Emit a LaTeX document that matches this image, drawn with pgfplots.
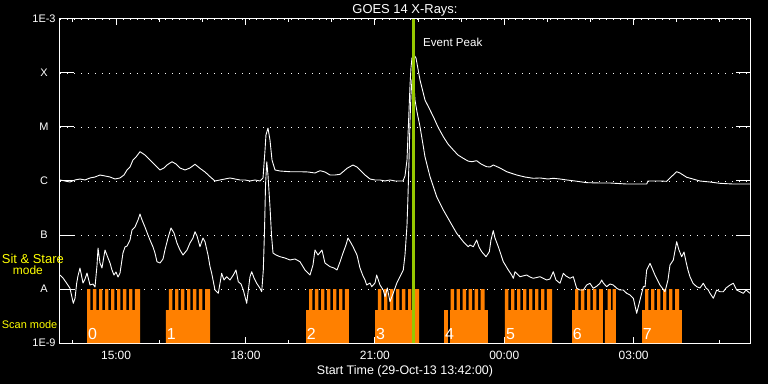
\documentclass[border=0pt]{standalone}
\usepackage{pgfplots}
\pgfplotsset{compat=1.18}
\usepackage{fontspec}
\setmainfont{Liberation Sans}
\definecolor{orng}{RGB}{255,128,0}
\definecolor{grn}{RGB}{150,200,0}
\definecolor{ylw}{RGB}{255,255,0}
\begin{document}
\begin{tikzpicture}
\path[use as bounding box, fill=black] (-60bp,-41bp) rectangle (708bp,343bp);
\begin{axis}[
  scale only axis, width=690bp, height=324bp,
  xmin=0, xmax=959.8, ymin=-9, ymax=-3,
  clip=false,
  axis line style={white, line width=1bp},
  xtick={78,258,438,618,798},
  xticklabels={15:00,18:00,21:00,00:00,03:00},
  minor xtick={18,138,198,318,378,498,558,678,738,858,918},
  ytick={-9,-8,-7,-6,-5,-4,-3},
  yticklabels={1E-9,A,B,C,M,X,1E-3},
  tick align=inside,
  major tick length=6.5bp, minor tick length=3.5bp,
  tick style={white, line width=1bp},
  ytick style={/pgfplots/major tick length=14bp},
  ymajorgrids,
  major grid style={white, line width=0.9bp, dash pattern=on 0.9bp off 6.1bp},
  xticklabel style={font=\fontsize{12}{12}\selectfont, text=white, anchor=base, inner sep=0pt, yshift=-16.3bp},
  yticklabel style={font=\fontsize{11}{12}\selectfont, text=white, anchor=center, inner sep=0pt, xshift=-16bp},
]
% orange observing-mode blocks (x: minutes after 13:42; y: log10 flux)
\addplot[fill=orng, draw=none] coordinates {(37.6,-9) (37.6,-8.389)
 (37.6,-8.389) (37.6,-8) (42.2,-8) (42.2,-8.389) (45.9,-8.389) (45.9,-8) (50.5,-8) (50.5,-8.389)
 (54.3,-8.389) (54.3,-8) (58.9,-8) (58.9,-8.389) (62.6,-8.389) (62.6,-8) (67.2,-8) (67.2,-8.389)
 (71.0,-8.389) (71.0,-8) (75.6,-8) (75.6,-8.389) (79.3,-8.389) (79.3,-8) (83.9,-8) (83.9,-8.389)
 (87.6,-8.389) (87.6,-8) (92.2,-8) (92.2,-8.389) (96.0,-8.389) (96.0,-8) (100.6,-8) (100.6,-8.389)
 (104.3,-8.389) (104.3,-8) (111.3,-8) (111.3,-9)} -- cycle;
\addplot[fill=orng, draw=none] coordinates {(147.4,-9) (147.4,-8.389)
 (151.6,-8.389) (151.6,-8) (156.2,-8) (156.2,-8.389) (160.0,-8.389) (160.0,-8) (164.6,-8) (164.6,-8.389)
 (168.3,-8.389) (168.3,-8) (172.9,-8) (172.9,-8.389) (176.7,-8.389) (176.7,-8) (181.3,-8) (181.3,-8.389)
 (185.0,-8.389) (185.0,-8) (189.6,-8) (189.6,-8.389) (193.3,-8.389) (193.3,-8) (197.9,-8) (197.9,-8.389)
 (201.7,-8.389) (201.7,-8) (208.7,-8) (208.7,-9)} -- cycle;
\addplot[fill=orng, draw=none] coordinates {(342.2,-9) (342.2,-8.389)
 (346.4,-8.389) (346.4,-8) (351.0,-8) (351.0,-8.389) (354.7,-8.389) (354.7,-8) (359.3,-8) (359.3,-8.389)
 (363.1,-8.389) (363.1,-8) (367.7,-8) (367.7,-8.389) (371.4,-8.389) (371.4,-8) (376.0,-8) (376.0,-8.389)
 (379.8,-8.389) (379.8,-8) (384.4,-8) (384.4,-8.389) (388.1,-8.389) (388.1,-8) (392.7,-8) (392.7,-8.389)
 (396.4,-8.389) (396.4,-8) (402.0,-8) (402.0,-9)} -- cycle;
\addplot[fill=orng, draw=none] coordinates {(438.2,-9) (438.2,-8.389)
 (442.3,-8.389) (442.3,-8) (446.9,-8) (446.9,-8.389) (450.7,-8.389) (450.7,-8) (455.3,-8) (455.3,-8.389)
 (459.0,-8.389) (459.0,-8) (463.6,-8) (463.6,-8.389) (467.4,-8.389) (467.4,-8) (472.0,-8) (472.0,-8.389)
 (475.7,-8.389) (475.7,-8) (480.3,-8) (480.3,-8.389) (484.1,-8.389) (484.1,-8) (488.7,-8) (488.7,-8.389)
 (492.4,-8.389) (492.4,-8) (499.4,-8) (499.4,-9)} -- cycle;
\addplot[fill=orng, draw=none] coordinates {(534.1,-9) (534.1,-8.389) (539.7,-8.389) (539.7,-9)} -- cycle;
\addplot[fill=orng, draw=none] coordinates {(542.5,-9) (542.5,-8.389)
 (543.5,-8.389) (543.5,-8) (548.1,-8) (548.1,-8.389) (551.8,-8.389) (551.8,-8) (556.4,-8) (556.4,-8.389)
 (560.2,-8.389) (560.2,-8) (564.8,-8) (564.8,-8.389) (568.5,-8.389) (568.5,-8) (573.1,-8) (573.1,-8.389)
 (576.9,-8.389) (576.9,-8) (581.5,-8) (581.5,-8.389) (585.2,-8.389) (585.2,-8) (590.5,-8) (590.5,-8.389)
 (595.3,-8.389) (595.3,-9)} -- cycle;
\addplot[fill=orng, draw=none] coordinates {(619.0,-9) (619.0,-8.389)
 (619.0,-8) (623.6,-8) (623.6,-8.389) (627.4,-8.389) (627.4,-8) (632.0,-8) (632.0,-8.389)
 (635.7,-8.389) (635.7,-8) (640.3,-8) (640.3,-8.389) (644.1,-8.389) (644.1,-8) (648.7,-8) (648.7,-8.389)
 (652.4,-8.389) (652.4,-8) (657.0,-8) (657.0,-8.389) (660.8,-8.389) (660.8,-8) (665.4,-8) (665.4,-8.389)
 (669.1,-8.389) (669.1,-8) (673.7,-8) (673.7,-8.389) (677.4,-8.389) (677.4,-8) (684.4,-8) (684.4,-9)} -- cycle;
\addplot[fill=orng, draw=none] coordinates {(712.2,-9) (712.2,-8.389)
 (716.4,-8.389) (716.4,-8) (721.0,-8) (721.0,-8.389) (724.7,-8.389) (724.7,-8) (729.3,-8) (729.3,-8.389)
 (733.1,-8.389) (733.1,-8) (737.7,-8) (737.7,-8.389) (741.4,-8.389) (741.4,-8) (746.0,-8) (746.0,-8.389)
 (749.8,-8.389) (749.8,-8) (755.3,-8) (755.3,-9)} -- cycle;
\addplot[fill=orng, draw=none] coordinates {(758.1,-9) (758.1,-8.389)
 (761.6,-8.389) (761.6,-8) (766.2,-8) (766.2,-8.389) (768.6,-8.389) (768.6,-8) (773.4,-8) (773.4,-9)} -- cycle;
\addplot[fill=orng, draw=none] coordinates {(809.6,-9) (809.6,-8.389)
 (813.8,-8.389) (813.8,-8) (818.4,-8) (818.4,-8.389) (822.1,-8.389) (822.1,-8) (826.7,-8) (826.7,-8.389)
 (830.5,-8.389) (830.5,-8) (835.1,-8) (835.1,-8.389) (838.8,-8.389) (838.8,-8) (843.4,-8) (843.4,-8.389)
 (847.2,-8.389) (847.2,-8) (851.8,-8) (851.8,-8.389) (855.5,-8.389) (855.5,-8) (861.1,-8) (861.1,-8.389)
 (865.2,-8.389) (865.2,-9)} -- cycle;
% GOES 1-8 A channel
\addplot[white, line width=0.9bp, line join=round] coordinates {
(0,-5.981) (7.0,-6.000) (13.9,-6.019) (20.9,-5.981) (27.8,-5.963) (34.8,-5.981) (41.7,-5.944) (48.7,-5.926) (55.6,-5.889) (62.6,-5.907) (69.6,-5.926) (76.5,-5.963) (83.5,-5.944) (89.0,-5.889) (93.2,-5.796) (97.4,-5.741) (101.5,-5.611) (105.7,-5.556) (111.3,-5.457) (118.2,-5.519) (125.2,-5.611) (132.1,-5.704) (139.1,-5.796) (144.7,-5.759) (148.8,-5.704) (155.8,-5.643) (161.4,-5.685) (166.9,-5.759) (173.9,-5.796) (180.8,-5.759) (187.8,-5.691) (194.7,-5.765) (201.7,-5.833) (208.7,-5.920) (215.6,-6.000) (222.6,-5.981) (236.5,-5.944) (250.4,-5.981) (257.3,-5.981) (264.3,-6.000) (271.2,-5.981) (278.2,-6.000) (282.4,-5.944) (285.2,-5.426) (286.5,-5.148) (289.3,-5.019) (292.1,-5.241) (294.9,-5.611) (299.1,-5.796) (306.0,-5.815) (319.9,-5.828) (333.8,-5.828) (345.0,-5.833) (354.7,-5.852) (361.7,-5.809) (368.6,-5.833) (375.6,-5.889) (382.5,-5.889) (389.5,-5.876) (395.0,-5.815) (399.2,-5.765) (407.6,-5.704) (413.1,-5.741) (417.3,-5.796) (424.3,-5.889) (431.2,-5.963) (438.2,-5.981) (445.1,-5.981) (452.1,-6.000) (459.0,-5.981) (466.0,-6.000) (472.9,-6.000) (477.1,-6.000) (479.9,-5.907) (482.7,-5.611) (484.1,-5.148) (485.5,-4.685) (486.9,-4.222) (488.2,-3.907) (489.6,-3.722) (492.4,-3.667) (495.2,-3.722) (500.8,-4.130) (507.7,-4.500) (513.3,-4.648) (519.3,-4.809) (525.8,-5.000) (533.2,-5.180) (539.7,-5.315) (547.1,-5.426) (553.6,-5.519) (561.0,-5.580) (567.5,-5.630) (572.7,-5.643) (579.6,-5.624) (585.6,-5.685) (593.5,-5.735) (598.1,-5.741) (602.7,-5.704) (612.0,-5.759) (621.4,-5.828) (635.3,-5.889) (646.8,-5.926) (658.4,-5.950) (667.7,-5.944) (678.8,-5.963) (686.2,-5.950) (695.5,-5.963) (704.8,-5.981) (716.4,-6.000) (732.6,-6.031) (751.1,-6.037) (765.1,-6.037) (788.3,-6.056) (816.1,-6.056) (817.9,-6.000) (834.6,-6.000) (843.9,-6.006) (848.5,-5.944) (857.8,-5.828) (862.4,-5.852) (871.7,-5.931) (880.5,-5.963) (890.2,-6.000) (904.2,-6.019) (918.1,-6.043) (936.6,-6.056) (959.8,-6.056)};
% GOES 0.5-4 A channel
\addplot[white, line width=0.9bp, line join=round] coordinates {
(0,-7.741) (4.2,-7.796) (9.3,-7.894) (13.9,-7.987) (18.5,-8.265) (20.9,-8.172) (23.2,-7.894) (25.0,-7.759) (27.8,-7.611) (32.0,-7.889) (34.8,-7.815) (37.6,-7.704) (41.7,-7.926) (45.9,-7.907) (48.7,-7.963) (51.5,-7.556) (52.9,-7.241) (55.6,-7.519) (58.4,-7.611) (62.6,-7.278) (66.8,-7.426) (69.6,-7.519) (72.3,-7.648) (75.1,-7.741) (77.9,-7.685) (80.7,-7.778) (83.5,-7.704) (87.6,-7.333) (90.4,-7.222) (93.2,-7.204) (97.4,-7.093) (100.2,-6.907) (104.3,-6.852) (108.5,-6.722) (111.3,-6.611) (114.1,-6.722) (118.2,-6.852) (122.4,-7.000) (125.2,-7.093) (129.4,-7.222) (132.1,-7.333) (134.9,-7.494) (139.1,-7.519) (143.3,-7.444) (146.0,-7.278) (150.2,-7.056) (154.4,-6.870) (158.6,-6.963) (162.7,-7.148) (166.9,-7.278) (171.1,-7.370) (176.7,-7.278) (180.8,-7.148) (185.0,-7.056) (187.8,-6.939) (190.6,-7.019) (194.7,-7.217) (198.9,-7.056) (201.7,-7.124) (205.9,-7.370) (208.7,-7.587) (211.0,-7.709) (215.6,-8.019) (220.2,-8.080) (224.9,-7.709) (228.1,-7.833) (231.9,-7.772) (236.5,-7.833) (241.1,-7.741) (244.8,-7.648) (248.0,-7.865) (251.8,-7.907) (255.0,-8.019) (259.7,-8.265) (264.3,-7.772) (266.7,-7.680) (269.9,-7.796) (273.6,-7.894) (278.2,-7.987) (280.6,-8.050) (282.8,-7.648) (284.5,-6.907) (285.9,-6.074) (287.6,-5.643) (289.3,-5.889) (292.1,-6.476) (294.2,-7.000) (296.3,-7.333) (300.5,-7.370) (306.0,-7.402) (313.0,-7.426) (319.9,-7.463) (326.9,-7.444) (333.8,-7.494) (340.8,-7.648) (347.8,-7.741) (351.9,-7.556) (354.7,-7.278) (358.9,-7.370) (364.4,-7.278) (368.6,-7.519) (375.6,-7.587) (381.1,-7.611) (385.3,-7.648) (389.5,-7.500) (393.7,-7.333) (397.8,-7.185) (400.6,-7.056) (404.8,-7.148) (407.6,-7.217) (413.1,-7.370) (417.3,-7.611) (421.5,-7.759) (424.3,-7.833) (426.6,-7.926) (431.2,-7.889) (433.6,-7.957) (438.2,-7.889) (440.5,-7.741) (445.1,-7.926) (449.7,-8.019) (452.1,-8.143) (455.3,-7.981) (459.0,-8.235) (463.6,-8.074) (468.4,-7.894) (472.9,-7.772) (477.5,-7.648) (479.9,-7.370) (482.7,-6.815) (484.1,-6.259) (485.5,-5.611) (486.9,-4.870) (488.2,-4.407) (489.6,-4.130) (491.0,-4.093) (492.4,-4.222) (493.8,-4.500) (496.6,-4.722) (500.8,-4.994) (507.7,-5.550) (514.7,-5.920) (524.0,-6.291) (533.2,-6.537) (542.5,-6.754) (551.8,-6.969) (561.0,-7.124) (567.9,-7.217) (570.3,-7.185) (574.9,-7.217) (579.6,-7.093) (582.8,-7.222) (586.6,-7.309) (592.6,-7.402) (597.2,-7.309) (599.5,-7.093) (602.7,-6.920) (605.1,-7.056) (609.7,-7.217) (616.6,-7.494) (623.6,-7.648) (628.3,-7.741) (630.6,-7.802) (632.9,-7.680) (639.9,-7.772) (649.2,-7.741) (653.8,-7.778) (658.4,-7.802) (667.7,-7.772) (677.0,-7.833) (681.6,-7.815) (686.2,-7.680) (689.9,-7.833) (695.5,-7.894) (700.1,-7.709) (703.8,-7.759) (709.4,-7.802) (714.0,-7.772) (718.7,-7.987) (723.3,-8.019) (727.9,-8.019) (732.6,-7.926) (737.2,-7.894) (741.8,-7.987) (747.0,-7.944) (751.1,-7.894) (753.5,-7.833) (755.7,-7.889) (760.4,-7.957) (765.1,-7.907) (769.7,-7.926) (774.4,-7.987) (779.0,-8.019) (783.6,-8.019) (788.3,-8.080) (792.9,-8.111) (797.5,-8.172) (802.2,-8.450) (806.8,-8.204) (811.4,-7.957) (813.8,-7.957) (816.1,-7.648) (820.7,-7.524) (823.5,-7.611) (827.6,-7.741) (834.6,-7.926) (841.5,-8.050) (845.7,-7.833) (848.5,-7.556) (853.1,-7.463) (857.8,-7.124) (861.0,-7.278) (864.8,-7.402) (868.0,-7.315) (870.8,-7.494) (873.5,-7.648) (876.3,-7.772) (880.5,-7.894) (885.6,-7.957) (890.2,-7.981) (894.8,-7.894) (898.6,-7.981) (901.8,-8.019) (904.2,-8.080) (908.8,-8.172) (913.5,-8.019) (918.1,-8.050) (922.7,-8.050) (926.5,-7.981) (932.1,-7.926) (936.6,-7.894) (941.3,-8.019) (945.9,-8.050) (950.5,-8.080) (954.3,-8.019) (959.8,-8.080)};
% event peak
\addplot[grn, line width=2.6bp] coordinates {(492,-9) (492,-3)};
\node[anchor=base west, inner sep=0pt, text=white, font=\fontsize{11.6}{12}\selectfont] at (axis cs:505,-3.513) {Event Peak};
% scan numbers
\begin{scope}[every node/.style={anchor=base west, inner sep=0pt, text=white, font=\fontsize{16}{16}\selectfont}]
\node at (axis cs:39.0,-8.926) {0};
\node at (axis cs:148.4,-8.926) {1};
\node at (axis cs:343.2,-8.926) {2};
\node at (axis cs:439.6,-8.926) {3};
\node at (axis cs:535.5,-8.926) {4};
\node at (axis cs:620.4,-8.926) {5};
\node at (axis cs:713.2,-8.926) {6};
\node at (axis cs:810.6,-8.926) {7};
\end{scope}
\node[anchor=base, inner sep=0pt, text=white, font=\fontsize{13}{14}\selectfont] at ([yshift=5bp]rel axis cs:0.5,1) {GOES 14 X-Rays:};
\node[anchor=base, inner sep=0pt, text=white, font=\fontsize{12.5}{14}\selectfont] at ([yshift=-31.5bp]rel axis cs:0.5,0) {Start Time (29-Oct-13 13:42:00)};
\end{axis}
\begin{scope}[every node/.style={anchor=base west, inner sep=0pt, text=ylw}]
\node[font=\fontsize{13}{14}\selectfont] at (-58.3bp,79.7bp) {Sit \& Stare};
\node[font=\fontsize{12}{13}\selectfont] at (-47.3bp,68bp) {mode};
\node[font=\fontsize{11}{12}\selectfont] at (-58.3bp,14.7bp) {Scan mode};
\end{scope}
\end{tikzpicture}
\end{document}
